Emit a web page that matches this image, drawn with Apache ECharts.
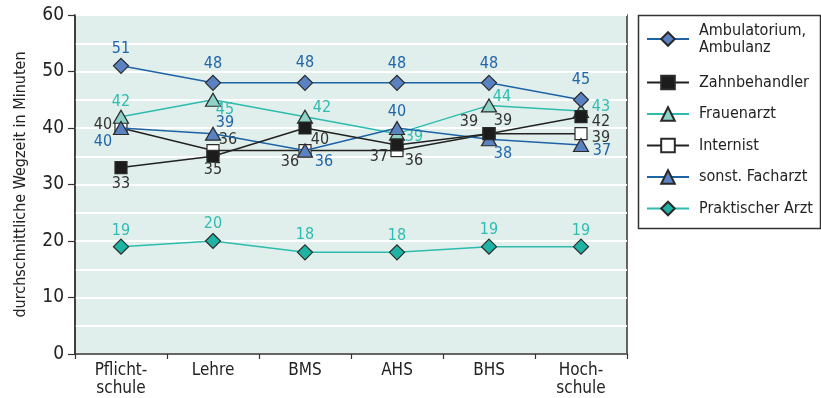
<!DOCTYPE html>
<html>
<head>
<meta charset="utf-8">
<script src="https://cdn.jsdelivr.net/npm/echarts@6/dist/echarts.min.js"></script>
<style>
  html, body { margin: 0; padding: 0; background: #ffffff; }
  #chart { width: 821px; height: 398px; }
</style>
</head>
<body>
<div id="chart"></div>
<script>
// Average travel time (minutes) by education level and type of practice
const categories = ['Pflicht-\nschule', 'Lehre', 'BMS', 'AHS', 'BHS', 'Hoch-\nschule'];
const ambulatorium = [51, 48, 48, 48, 48, 45];
const zahnbehandler = [33, 35, 40, 37, 39, 42];
const frauenarzt = [42, 45, 42, 39, 44, 43];
const internist = [40, 36, 36, 36, 39, 39];
const facharzt = [40, 39, 36, 40, 38, 37];
const praktischer = [19, 20, 18, 18, 19, 19];
const yMin = 0, yMax = 60, yStep = 10;

const FONT = "'Liberation Sans Narrow', 'DejaVu Sans Condensed', 'Arial Narrow', sans-serif";
const BLUE_LINE = '#1d63a6', BLUE_FILL = '#5a82c2', BLUE_TEXT = '#2166a8';
const TEAL_LINE = '#2dbcae', TEAL_TEXT = '#2ebdb0';
const DARK = '#222222', EDGE = '#2a2a2a';

// per-point label offsets (px) from the marker centre
const labelOffsets = {
  ambulatorium: [[0, -17], [0, -19], [0, -20], [0, -19], [0, -19], [0, -20]],
  zahnbehandler: [[0, 16], [0, 14], [15, 12], [-18, 12], [-20, -12], [20, 5]],
  frauenarzt: [[0, -15], [12, 10], [17, -9], [17, 3], [13, -9], [20, -4]],
  internist: [[-18, -3], [15, -11], [-15, 11], [17, 10], [14, -13], [20, 4]],
  facharzt: [[-18, 14], [12, -11], [19, 11], [0, -16], [14, 15], [21, 6]],
  praktischer: [[0, -16], [0, -17], [0, -17], [0, -16], [0, -17], [0, -16]]
};

function makeSeries(name, values, offsets, opts) {
  return {
    name: name,
    type: 'line',
    data: values.map((v, i) => ({ value: v, label: { offset: offsets[i] } })),
    symbol: opts.symbol,
    symbolSize: opts.size,
    lineStyle: { color: opts.line, width: 1.5 },
    itemStyle: { color: opts.fill, borderColor: EDGE, borderWidth: 1.2 },
    label: {
      show: true,
      position: 'inside',
      align: 'center',
      verticalAlign: 'middle',
      color: opts.text,
      fontFamily: FONT,
      fontSize: 16
    },
    emphasis: { disabled: true },
    animation: false,
    z: opts.z
  };
}

const series = [
  makeSeries('Internist', internist, labelOffsets.internist,
    { symbol: 'rect', size: 12, line: DARK, fill: '#ffffff', text: '#333333', z: 2 }),
  makeSeries('Frauenarzt', frauenarzt, labelOffsets.frauenarzt,
    { symbol: 'triangle', size: [15, 13], line: TEAL_LINE, fill: '#8fd2c7', text: TEAL_TEXT, z: 3 }),
  makeSeries('sonst. Facharzt', facharzt, labelOffsets.facharzt,
    { symbol: 'triangle', size: [15, 13], line: BLUE_LINE, fill: BLUE_FILL, text: BLUE_TEXT, z: 4 }),
  makeSeries('Zahnbehandler', zahnbehandler, labelOffsets.zahnbehandler,
    { symbol: 'rect', size: 12, line: DARK, fill: '#1c1c1c', text: '#333333', z: 5 }),
  makeSeries('Ambulatorium,\nAmbulanz', ambulatorium, labelOffsets.ambulatorium,
    { symbol: 'diamond', size: [15, 15], line: BLUE_LINE, fill: BLUE_FILL, text: BLUE_TEXT, z: 6 }),
  makeSeries('Praktischer Arzt', praktischer, labelOffsets.praktischer,
    { symbol: 'diamond', size: [15, 15], line: TEAL_LINE, fill: '#1fb3a3', text: TEAL_TEXT, z: 6 })
];

const legendBase = {
  orient: 'vertical',
  left: 646,
  itemWidth: 42, itemHeight: 17, itemGap: 14.5,
  padding: 0,
  textStyle: { color: DARK, fontFamily: FONT, fontSize: 16, lineHeight: 17, padding: [0, 0, 0, 5] },
  selectedMode: false
};

const chart = echarts.init(document.getElementById('chart'), null, { renderer: 'canvas' });
chart.setOption({
  animation: false,
  backgroundColor: '#ffffff',
  textStyle: { fontFamily: FONT },
  grid: {
    left: 75, top: 15, width: 552, height: 339,
    show: true,
    backgroundColor: '#e0efeb',
    borderColor: '#333333',
    borderWidth: 1.5
  },
  xAxis: {
    type: 'category',
    data: categories,
    boundaryGap: true,
    axisLine: { lineStyle: { color: '#333333', width: 1.5 } },
    axisTick: { show: true, length: 5, lineStyle: { color: '#333333', width: 1.2 } },
    axisLabel: { color: DARK, fontFamily: FONT, fontSize: 17, lineHeight: 18, margin: 8 },
    splitLine: { show: false }
  },
  yAxis: {
    type: 'value',
    min: yMin, max: yMax, interval: yStep,
    name: 'durchschnittliche Wegzeit in Minuten',
    nameLocation: 'middle',
    nameGap: 46,
    nameTextStyle: { color: DARK, fontFamily: FONT, fontSize: 16 },
    axisLine: { show: true, lineStyle: { color: '#333333', width: 1.5 } },
    axisTick: { show: true, length: 7, lineStyle: { color: '#333333', width: 1.2 } },
    axisLabel: { color: DARK, fontFamily: FONT, fontSize: 19, margin: 11 },
    splitLine: { show: true, lineStyle: { color: '#ffffff', width: 2 } },
    minorTick: { show: false, splitNumber: 2 },
    minorSplitLine: { show: true, lineStyle: { color: '#ffffff', width: 2 } }
  },
  legend: [
    Object.assign({}, legendBase, { top: 22, data: ['Ambulatorium,\nAmbulanz'] }),
    Object.assign({}, legendBase, {
      top: 74,
      data: ['Zahnbehandler', 'Frauenarzt', 'Internist', 'sonst. Facharzt', 'Praktischer Arzt']
    })
  ],
  graphic: [{
    type: 'rect',
    shape: { x: 638.5, y: 15.5, width: 182, height: 213 },
    style: { fill: 'none', stroke: '#333333', lineWidth: 1.5 },
    silent: true
  }],
  series: series
});
</script>
</body>
</html>
